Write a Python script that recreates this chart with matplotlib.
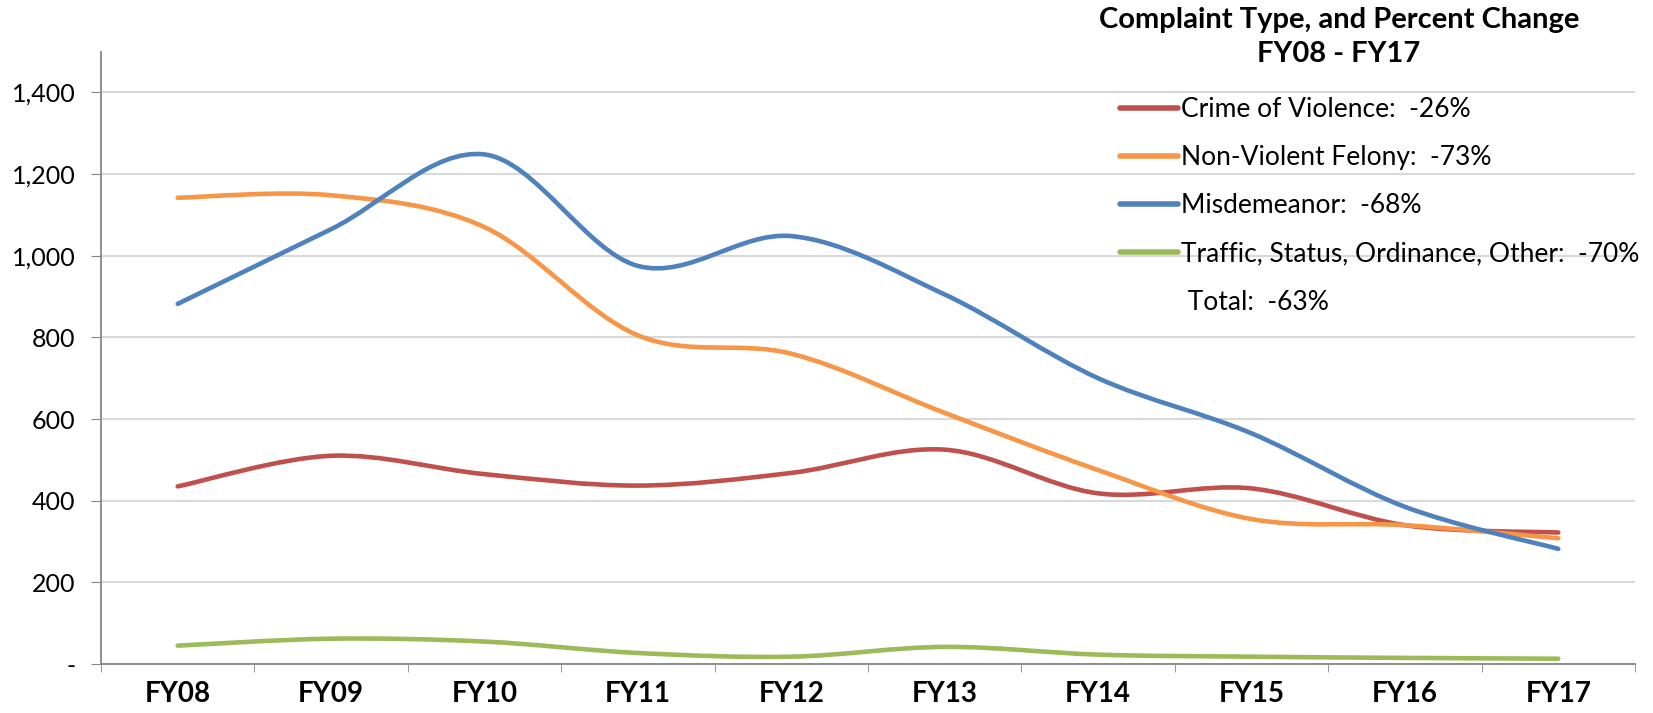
import matplotlib
matplotlib.use("Agg")
import matplotlib.pyplot as plt
from matplotlib.path import Path
from matplotlib.patches import PathPatch, Rectangle
from matplotlib.lines import Line2D
from matplotlib.ticker import FixedLocator, FuncFormatter

plt.rcParams['font.family'] = ['Lato', 'DejaVu Sans']

# data
years = ['FY08', 'FY09', 'FY10', 'FY11', 'FY12', 'FY13', 'FY14', 'FY15', 'FY16', 'FY17']
violence = [435, 510, 465, 437, 468, 525, 418, 430, 340, 322]
felony = [1142, 1148, 1070, 805, 760, 615, 475, 355, 340, 308]
misdemeanor = [882, 1065, 1248, 975, 1048, 905, 700, 565, 385, 282]
traffic = [45, 62, 55, 27, 18, 42, 23, 18, 15, 13]

labels = ['Crime of Violence:  -26%', 'Non-Violent Felony:  -73%',
          'Misdemeanor:  -68%', 'Traffic, Status, Ordinance, Other:  -70%']
total_label = ' Total:  -63%'
title_lines = ['Complaint Type, and Percent Change', 'FY08 - FY17']
colors = ['#C0504D', '#F79646', '#4F81BD', '#9BBB59']


def smooth_path(xs, ys):
    # Excel-like smoothed line: cubic Bezier through each point
    pts = list(zip(xs, ys))
    n = len(pts)
    verts = [pts[0]]
    codes = [Path.MOVETO]
    for i in range(n - 1):
        p0 = pts[max(i - 1, 0)]
        p1 = pts[i]
        p2 = pts[i + 1]
        p3 = pts[min(i + 2, n - 1)]
        c1 = (p1[0] + (p2[0] - p0[0]) / 6, p1[1] + (p2[1] - p0[1]) / 6)
        c2 = (p2[0] - (p3[0] - p1[0]) / 6, p2[1] - (p3[1] - p1[1]) / 6)
        verts += [c1, c2, p2]
        codes += [Path.CURVE4] * 3
    return Path(verts, codes)


fig = plt.figure(figsize=(16.53, 7.13), dpi=100)
ax = fig.add_axes([0.0611, 0.0687, 0.928, 0.859])

x = list(range(len(years)))
for vals, col in zip([violence, felony, misdemeanor, traffic], colors):
    patch = PathPatch(smooth_path(x, vals), facecolor='none', edgecolor=col,
                      lw=3.3, capstyle='round', joinstyle='round', zorder=3)
    ax.add_patch(patch)

ax.set_xlim(-0.5, len(years) - 0.5)
ax.set_ylim(0, 1500)

ax.set_yticks(range(0, 1401, 200))
ax.yaxis.set_major_formatter(FuncFormatter(lambda v, p: '-' if v == 0 else f'{int(v):,}'))
ax.tick_params(axis='y', labelsize=18, length=7.5, pad=11, color='#868686')

ax.set_xticks(x)
ax.set_xticklabels(years, fontweight='bold', fontsize=20)
ax.xaxis.set_minor_locator(FixedLocator([i - 0.5 for i in range(len(years) + 1)]))
ax.tick_params(axis='x', which='major', length=0, pad=12)
ax.tick_params(axis='x', which='minor', length=5.5, color='#868686')

ax.grid(axis='y', color='#D9D9D9', lw=1.5, zorder=0)
for s in ['top', 'right']:
    ax.spines[s].set_visible(False)
for s in ['left', 'bottom']:
    ax.spines[s].set_color('#868686')
    ax.spines[s].set_linewidth(1.3)

# white legend area hiding the gridlines behind it
ax.add_patch(Rectangle((0.652, 0.57), 0.4, 0.5, transform=ax.transAxes,
                       facecolor='white', edgecolor='none', zorder=1, clip_on=False))

fig.text(0.810, 1 - 20 / 713, title_lines[0], ha='center', va='center',
         fontsize=21, fontweight='bold')
fig.text(0.810, 1 - 54 / 713, title_lines[1], ha='center', va='center',
         fontsize=21, fontweight='bold')

handles = [Line2D([], [], color=c, lw=4, solid_capstyle='round') for c in colors]
handles.append(Line2D([], [], color='none'))
leg = fig.legend(handles, labels + [total_label],
                 loc='upper left', bbox_to_anchor=(0.6773, 0.864),
                 fontsize=19, frameon=False, handlelength=2.2, handletextpad=0.13,
                 labelspacing=0.88, borderpad=0, borderaxespad=0)

fig.savefig('out.png', dpi=100)
